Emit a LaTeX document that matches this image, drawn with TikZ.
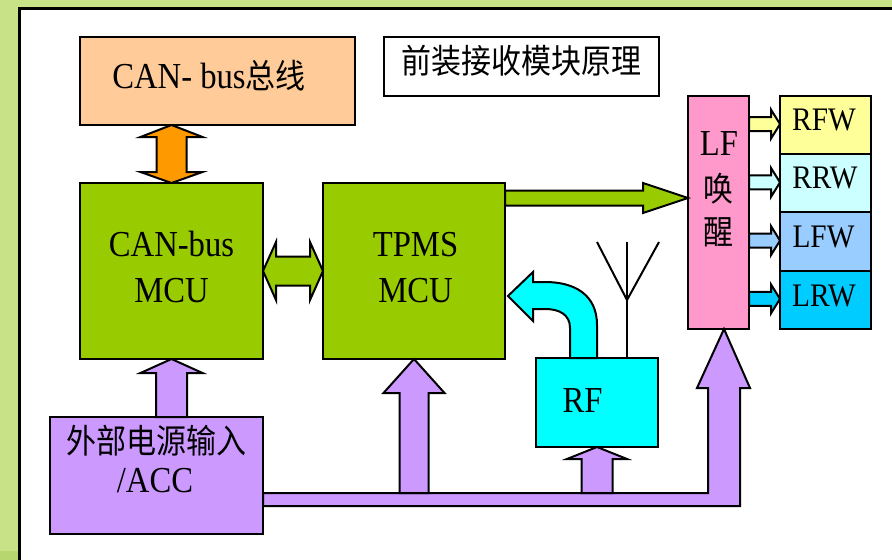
\documentclass[tikz,border=0pt]{standalone}
\usepackage{fontspec}
\usepackage{graphicx}
\setmainfont{Liberation Serif}
\newfontfamily\cjk{Noto Sans CJK SC}
\usetikzlibrary{calc}
\definecolor{bgg}{RGB}{200,226,136}
\definecolor{bgd}{RGB}{184,214,112}
\definecolor{orbox}{HTML}{FFCC99}
\definecolor{orarr}{HTML}{FF9900}
\definecolor{grn}{HTML}{99CC00}
\definecolor{pnk}{HTML}{FF99CC}
\definecolor{prp}{HTML}{CC99FF}
\definecolor{cyn}{HTML}{00FFFF}
\definecolor{yel}{HTML}{FFFF99}
\definecolor{lcy}{HTML}{CCFFFF}
\definecolor{lbu}{HTML}{99CCFF}
\definecolor{scy}{HTML}{00CCFF}
\newcommand\vstr[1]{\scalebox{1}[1.12]{#1}}
\newcommand\cj[1]{{\cjk\fontsize{22.5}{33}\selectfont #1}}
\tikzset{
  box/.style={draw=black, line width=1.5pt, inner sep=0pt, outer sep=0pt, rectangle},
  sz/.style 2 args={minimum width=#1*0.75pt, minimum height=#2*0.75pt},
  lbl/.style={inner sep=0pt, anchor=base, font=\fontsize{24.5}{33}\selectfont},
  slbl/.style={inner sep=0pt, anchor=base, font=\fontsize{22}{30}\selectfont},
  blk/.style={draw=black, line width=1.5pt, line join=miter},
}
\begin{document}
\begin{tikzpicture}[x=0.75pt,y=-0.75pt]
\useasboundingbox (0,0) rectangle (892,560);
\clip (0,0) rectangle (892,560);
\fill[bgg] (0,0) rectangle (892,560);
\fill[bgd] (0,551) rectangle (19,560);
\draw[fill=white, line width=2.2pt] (19.5,8.5) rectangle (920,590);

% boxes
\node[box, fill=orbox, sz={275}{88}] (bus) at (217.5,81) {};
\node[box, fill=white, sz={275}{59}] (title) at (521.5,66.5) {};
\node[box, fill=grn, sz={183}{176}] (canmcu) at (171.5,271) {};
\node[box, fill=grn, sz={182}{176}] (tpms) at (414,271) {};
\node[box, fill=pnk, sz={61}{233}] (lf) at (718.5,212.5) {};
\node[box, fill=yel, sz={91}{58.25}] (rfw) at (825.5,125.1) {};
\node[box, fill=lcy, sz={91}{58.25}] (rrw) at (825.5,183.4) {};
\node[box, fill=lbu, sz={91}{58.25}] (lfw) at (825.5,241.6) {};
\node[box, fill=scy, sz={91}{58.25}] (lrw) at (825.5,299.9) {};
\node[box, fill=cyn, sz={122}{89}] (rf) at (597,402.5) {};
\node[box, fill=prp, sz={213}{117}] (power) at (156.5,475.5) {};

% labels
\node[lbl] (tbus) at (209,89) {\vstr{CAN- bus\cj{总线}}};
\node[lbl] (ttitle) at (521.5,74) {\vstr{\cj{前装接收模块原理}}};
\node[lbl] (tcan1) at (171.5,256) {\vstr{CAN-bus}};
\node[lbl] (tcan2) at (171.5,302) {\vstr{MCU}};
\node[lbl] (ttp1) at (415.5,256) {\vstr{TPMS}};
\node[lbl] (ttp2) at (415.5,302) {\vstr{MCU}};
\node[lbl] (tlf1) at (719,155) {\vstr{LF}};
\node[lbl] (tlf2) at (718,201) {\vstr{\cj{唤}}};
\node[lbl] (tlf3) at (718,244.5) {\vstr{\cj{醒}}};
\node[slbl] (trfw) at (824,130) {\vstr{RFW}};
\node[slbl] (trrw) at (825,188) {\vstr{RRW}};
\node[slbl] (tlfw) at (823.5,247) {\vstr{LFW}};
\node[slbl] (tlrw) at (824,306) {\vstr{LRW}};
\node[lbl] (trf) at (582.5,412) {\vstr{RF}};
\node[lbl] (tpw1) at (156,453.5) {\vstr{\cj{外部电源输入}}};
\node[lbl] (tpw2) at (155,492) {\vstr{/ACC}};

% orange double arrow
\filldraw[blk, fill=orarr] (canmcu.north |- bus.south) -- ++(31,12) -- ++(-16,0) -- ++(0,35) -- ++(16,0)
  -- (canmcu.north) -- ++(-31,-11) -- ++(16,0) -- ++(0,-35) -- ++(-16,0) -- cycle;

% green double arrow
\filldraw[blk, fill=grn] (canmcu.east) -- ++(13,-29) -- ++(0,14.5) -- ++(34,0) -- ++(0,-14.5)
  -- (tpms.west) -- ++(-13,29) -- ++(0,-14.5) -- ++(-34,0) -- ++(0,14.5) -- cycle;

% green arrow TPMS -> LF
\coordinate (g1) at ($(tpms.north east)+(0,15)$);
\filldraw[blk, fill=grn] ($(g1)+(0,-7.5)$) -- ++(138,0) -- ++(0,-7.5) -- (lf.west |- g1)
  -- ++(-45,15) -- ++(0,-7.5) -- ++(-138,0) -- cycle;

% LF -> wheels
\foreach \b/\c in {rfw/yel,rrw/lcy,lfw/lbu,lrw/scy}{
  \filldraw[blk, fill=\c] ($(lf.east |- \b.west)+(0,-8)$) -- ++(22,0) -- ++(0,-7.5)
    -- ($(\b.west)+(0,-1)$) -- ++(-9,14.5) -- ++(0,-7.5) -- ++(-22,0) -- cycle;
}

% antenna
\coordinate (ant) at ($(rf.north)+(30,0)$);
\draw[line width=1.5pt] (ant) -- ++(0,-116);
\draw[line width=1.5pt] ($(ant)+(-30,-116)$) -- ($(ant)+(0,-58)$) -- ($(ant)+(32,-116)$);

% cyan bent arrow RF -> TPMS
\filldraw[blk, fill=cyn] (rf.north) -- ++(0,-33) .. controls +(0,-30) and +(30,0) .. ++(-52,-43)
  -- ++(-12,0) -- ++(0,-10) -- ($(tpms.east)+(3,25)$) -- ++(25,25) -- ++(0,-12) -- ++(12,0)
  .. controls +(15,0) and +(0,-13) .. ++(25,19) -- ++(0,30) -- cycle;

% purple: power -> CAN MCU
\filldraw[blk, fill=prp] ($(power.north -| canmcu.south)+(-15.5,0)$) -- ++(0,-44) -- ++(-15.5,0)
  -- (canmcu.south) -- ++(31,14) -- ++(-15.5,0) -- ++(0,44) -- cycle;

% purple bus and arrow to LF
\filldraw[blk, fill=prp] ($(power.north east)+(0,76)$) -- ++(445,0) -- ++(0,-105) -- ++(-11,0)
  -- ($(lf.south)+(5.5,0)$) -- ++(26,59) -- ++(-10,0) -- ++(0,118) -- ++(-477,0) -- cycle;

% purple arrow to TPMS
\filldraw[blk, fill=prp] ($(tpms.south)+(-14.5,134)$) -- ++(0,-100) -- ++(-16,0)
  -- (tpms.south) -- ++(30.5,34) -- ++(-16,0) -- ++(0,100) -- cycle;

% purple arrow to RF
\filldraw[blk, fill=prp] ($(rf.south)+(-15.5,46)$) -- ++(0,-34) -- ++(-14.5,0)
  -- (rf.south) -- ++(30,12) -- ++(-14.5,0) -- ++(0,34) -- cycle;
\end{tikzpicture}
\end{document}
